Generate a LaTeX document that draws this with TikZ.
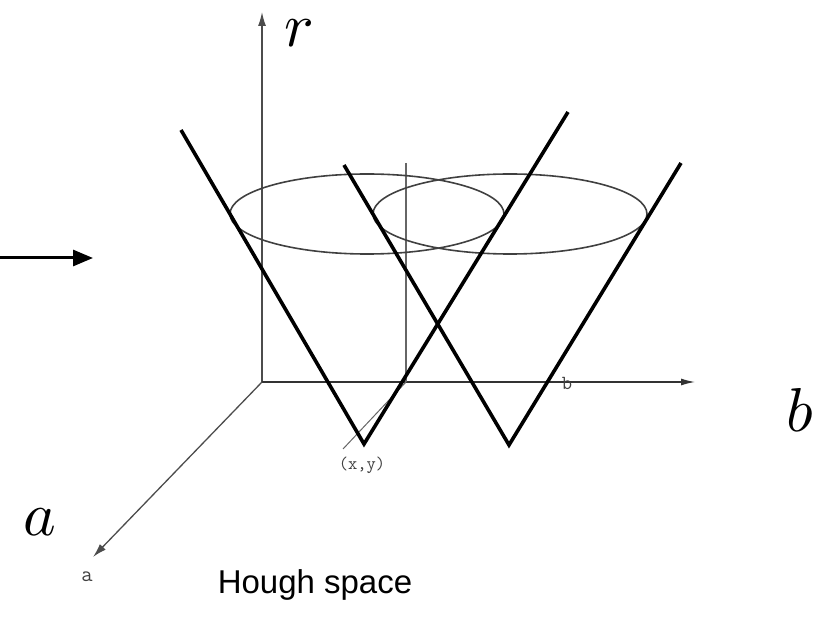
\documentclass[tikz,border=0pt]{standalone}
\usepackage{fontspec}
\usepackage{graphicx}
\newfontfamily\arial{Liberation Sans}
\usetikzlibrary{arrows.meta}
\begin{document}
\begin{tikzpicture}[x=1pt,y=-1pt,
  axis/.style={draw=black!70,line width=1.3pt},
  cone/.style={draw=black,line width=3.6pt,line join=miter},
  ell/.style={draw=black!75,line width=1.6pt},
  guide/.style={draw=black!60,line width=1.1pt},
  biglabel/.style={inner sep=0pt},
  tiny/.style={inner sep=0pt,font=\ttfamily\fontsize{18}{18}\selectfont,text=black!75}]
\useasboundingbox (0,0) rectangle (829,617);
% axes
\coordinate (O) at (262,382);
\coordinate (rtop) at (262,12);
\coordinate (btip) at (695,382);
\coordinate (atip) at (93,557);
\draw[axis,-{Latex[length=14pt,width=8pt]}] (O) -- (rtop);
\draw[axis,draw=black!80,-{Latex[length=14pt,width=7pt]}] (O) -- (btip);
\draw[axis,-{Latex[length=14pt,width=8pt]}] (O) -- (atip);
% second vertical and projection line
\coordinate (vtop) at (406,163);
\coordinate (vbot) at (406,382);
\coordinate (pend) at (343,449);
\draw[guide] (vtop) -- (vbot);
\draw[guide,line width=1pt] (vbot) -- (pend);
% ellipses
\draw[ell] (367,214) ellipse [x radius=137, y radius=40];
\draw[ell] (510,214) ellipse [x radius=137, y radius=40];
% cones
\coordinate (c1l) at (181,130);
\coordinate (c1a) at (364,444);
\coordinate (c1r) at (568,112);
\coordinate (c2l) at (344,165);
\coordinate (c2a) at (509,445);
\coordinate (c2r) at (681,163);
\draw[cone] (c1l) -- (c1a) -- (c1r);
\draw[cone] (c2l) -- (c2a) -- (c2r);
% left arrow
\coordinate (la0) at (0,258);
\coordinate (la1) at (93,258);
\draw[line width=3pt,-{Triangle[length=20pt,width=16pt]}] (la0) -- (la1);
% labels
\node[biglabel] (rl) at (299,33) {\scalebox{6.2}{$r$}};
\node[biglabel] (bl) at (800,410) {\scalebox{6.2}{$b$}};
\node[biglabel] (al) at (40,522) {\scalebox{6.2}{$a$}};
\node[inner sep=0pt,font=\arial\fontsize{33}{33}\selectfont] (hs) at (315,585) {Hough space};
\node[tiny] (xy) at (362,465) {(x,y)};
\node[tiny,font=\ttfamily\fontsize{20}{20}\selectfont] (bs) at (567,383) {b};
\node[tiny,font=\ttfamily\fontsize{22}{22}\selectfont] (as) at (87,577) {a};
\end{tikzpicture}
\end{document}
